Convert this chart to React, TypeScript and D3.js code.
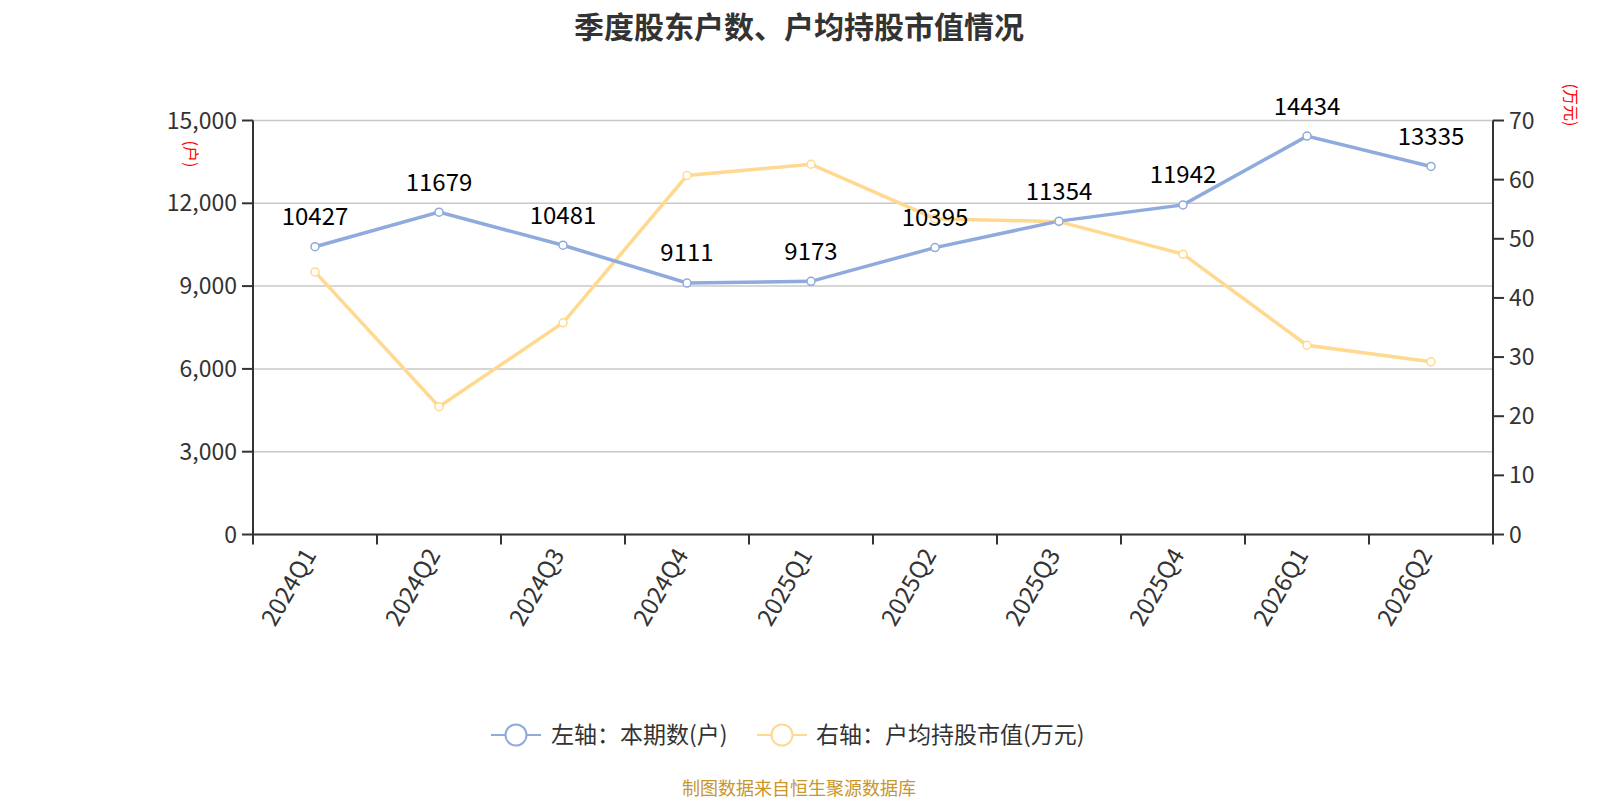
import React, { useEffect } from "react";
import * as d3 from "d3";

const categories = ["2024Q1","2024Q2","2024Q3","2024Q4","2025Q1","2025Q2","2025Q3","2025Q4","2026Q1","2026Q2"];
const holders = [10427, 11679, 10481, 9111, 9173, 10395, 11354, 11942, 14434, 13335];
const avgValue = [44.4, 21.6, 35.8, 60.7, 62.6, 53.4, 52.9, 47.4, 32.0, 29.2];
const leftTicks = [0, 3000, 6000, 9000, 12000, 15000];
const rightTicks = [0, 10, 20, 30, 40, 50, 60, 70];

const W = 1600, H = 800;
const L = 253, R = 1493, T = 120.5, B = 534.5;
const BLUE = "#8FAADC";
const YELLOW = "#FFD98F";
const FONT = "'Noto Sans CJK SC', 'Noto Sans', sans-serif";

export default function App() {
  useEffect(() => {
    document.body.style.margin = "0";
    document.body.style.overflow = "hidden";
    document.documentElement.style.overflow = "hidden";
  }, []);
  const x = d3.scaleBand<string>().domain(categories).range([L, R]);
  const yL = d3.scaleLinear().domain([0, 15000]).range([B, T]);
  const yR = d3.scaleLinear().domain([0, 70]).range([B, T]);
  const cx = (c: string) => (x(c) as number) + x.bandwidth() / 2;
  const lineL = d3.line<number>().x((_, i) => cx(categories[i])).y(d => yL(d));
  const lineR = d3.line<number>().x((_, i) => cx(categories[i])).y(d => yR(d));
  const fmt = d3.format(",");
  const boundaries = [...categories.map(c => x(c) as number), R];

  return (
    <svg width={W} height={H} style={{ position: "fixed", left: 0, top: 0, display: "block", fontFamily: FONT }}>
      <rect width={W} height={H} fill="#fff" />
      <text x={799} y={27} dy="0.35em" textAnchor="middle" fontSize={30} fontWeight="bold" fill="#333">季度股东户数、户均持股市值情况</text>

      {leftTicks.map(t => (
        <line key={"g" + t} x1={L} x2={R} y1={yL(t)} y2={yL(t)} stroke="#c8c8c8" strokeWidth={1.5} />
      ))}

      {/* left axis */}
      <line x1={L} x2={L} y1={T} y2={B} stroke="#333" strokeWidth={2} />
      {leftTicks.map(t => (
        <g key={"l" + t}>
          <line x1={L - 11} x2={L} y1={yL(t)} y2={yL(t)} stroke="#333" strokeWidth={2} />
          <text x={L - 16} y={yL(t)} dy="0.35em" textAnchor="end" fontSize={23} fill="#333">{fmt(t)}</text>
        </g>
      ))}
      <text transform={`translate(191,154) rotate(90)`} textAnchor="middle" dy="0.35em" fontSize={16} fill="#f00">(户)</text>

      {/* right axis */}
      <line x1={R} x2={R} y1={T} y2={B} stroke="#333" strokeWidth={2} />
      {rightTicks.map(t => (
        <g key={"r" + t}>
          <line x1={R} x2={R + 11} y1={yR(t)} y2={yR(t)} stroke="#333" strokeWidth={2} />
          <text x={R + 16} y={yR(t)} dy="0.35em" textAnchor="start" fontSize={23} fill="#333">{t}</text>
        </g>
      ))}
      <text transform={`translate(1571,105) rotate(90)`} textAnchor="middle" dy="0.35em" fontSize={16} fill="#f00">(万元)</text>

      {/* bottom axis */}
      <line x1={L} x2={R} y1={B} y2={B} stroke="#333" strokeWidth={2} />
      {boundaries.map((b, i) => (
        <line key={"b" + i} x1={b} x2={b} y1={B} y2={B + 10} stroke="#333" strokeWidth={2} />
      ))}
      {categories.map(c => (
        <text key={"c" + c} transform={`translate(${cx(c) - 5},${B + 16}) rotate(-60)`} textAnchor="end" dy="0.35em" fontSize={24} fill="#333">{c}</text>
      ))}

      {/* lines */}
      <path d={lineR(avgValue) || ""} fill="none" stroke={YELLOW} strokeWidth={3.5} />
      <path d={lineL(holders) || ""} fill="none" stroke={BLUE} strokeWidth={3.5} />
      {avgValue.map((v, i) => (
        <circle key={"yc" + i} cx={cx(categories[i])} cy={yR(v)} r={4} fill="#fff" stroke={YELLOW} strokeWidth={1.5} />
      ))}
      {holders.map((v, i) => (
        <circle key={"bc" + i} cx={cx(categories[i])} cy={yL(v)} r={4} fill="#fff" stroke={BLUE} strokeWidth={1.5} />
      ))}
      {holders.map((v, i) => (
        <text key={"bl" + i} x={cx(categories[i])} y={yL(v) - 30} dy="0.35em" textAnchor="middle" fontSize={24} fill="#000">{v}</text>
      ))}

      {/* legend */}
      <g>
        <line x1={491} x2={541} y1={735} y2={735} stroke={BLUE} strokeWidth={2} />
        <circle cx={516} cy={735} r={10.5} fill="#fff" stroke={BLUE} strokeWidth={2} />
        <text x={551} y={735} dy="0.35em" fontSize={23} fill="#333">左轴：本期数(户)</text>
        <line x1={757} x2={807} y1={735} y2={735} stroke={YELLOW} strokeWidth={2} />
        <circle cx={782} cy={735} r={10.5} fill="#fff" stroke={YELLOW} strokeWidth={2} />
        <text x={816} y={735} dy="0.35em" fontSize={23} fill="#333">右轴：户均持股市值(万元)</text>
      </g>

      <text x={799} y={789} dy="0.35em" textAnchor="middle" fontSize={18} fill="#C8962A">制图数据来自恒生聚源数据库</text>
    </svg>
  );
}
